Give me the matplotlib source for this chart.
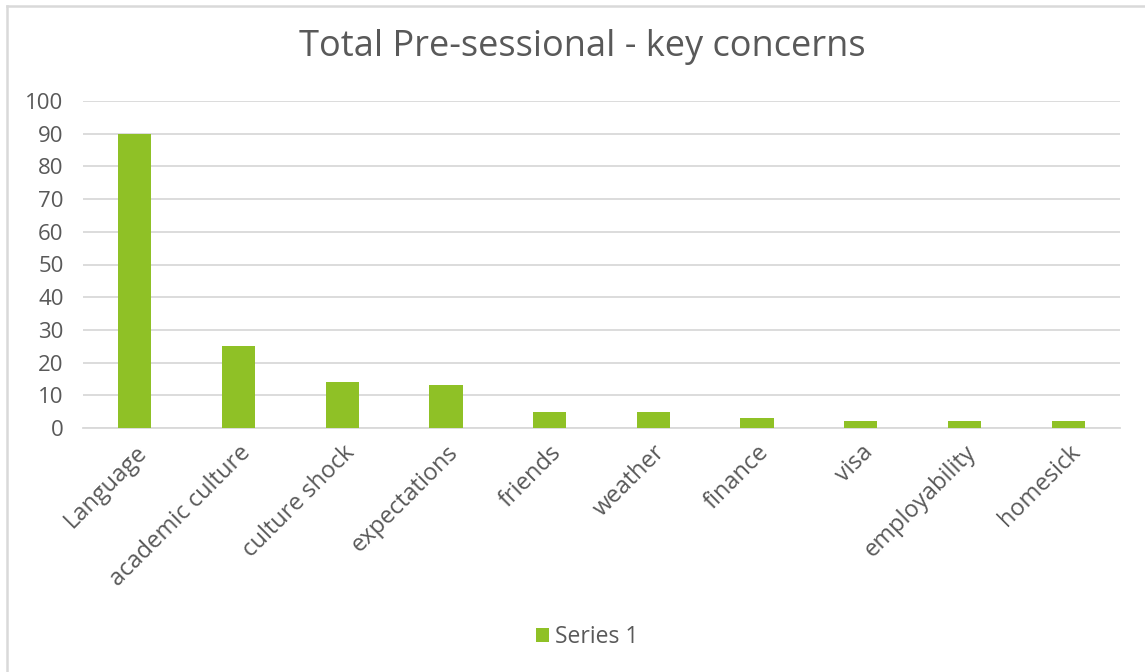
import matplotlib
matplotlib.use("Agg")
import matplotlib.pyplot as plt
from matplotlib.lines import Line2D
from matplotlib.transforms import ScaledTranslation

categories = ["Language", "academic culture", "culture shock", "expectations",
              "friends", "weather", "finance", "visa", "employability", "homesick"]
values = [90, 25, 14, 13, 5, 5, 3, 2, 2, 2]
series_name = "Series 1"
title = "Total Pre-sessional - key concerns"
yticks = list(range(0, 101, 10))

plt.rcParams['font.family'] = ['Open Sans', 'DejaVu Sans']
W, H = 1145, 672
fig = plt.figure(figsize=(W / 100, H / 100), dpi=100)
ax = fig.add_axes([83 / W, 1 - 428 / H, (1120 - 83) / W, (428 - 101) / H])

green = "#8FC126"
grey_text = "#595959"
grid_c = "#D9D9D9"

x = list(range(len(categories)))
ax.bar(x, values, width=0.32, color=green, label=series_name, zorder=3)
ax.set_xlim(-0.5, len(categories) - 0.5)
ax.set_ylim(0, 100)
ax.set_yticks(yticks)
ax.set_yticklabels([str(v) for v in yticks], fontsize=16, color=grey_text)
ax.set_xticks(x)
ax.set_xticklabels(categories, rotation=45, ha="right", rotation_mode="anchor",
                   fontsize=17, color=grey_text)
offset = ScaledTranslation(4 / 100, 0, fig.dpi_scale_trans)
for lab in ax.get_xticklabels():
    lab.set_transform(lab.get_transform() + offset)
ax.tick_params(axis="both", length=0)
ax.tick_params(axis="y", pad=14)
ax.tick_params(axis="x", pad=9)
ax.grid(axis="y", color=grid_c, linewidth=1.3, zorder=0)
for s in ["top", "right", "left"]:
    ax.spines[s].set_visible(False)
ax.spines["bottom"].set_color(grid_c)
ax.spines["bottom"].set_linewidth(1.3)

fig.text(582 / W, 1 - 47 / H, title, ha="center", va="center", fontsize=26, color=grey_text)

leg = fig.legend(loc="center", bbox_to_anchor=(587 / W, 1 - 637 / H), frameon=False,
                 fontsize=16.5, handlelength=0.6, handleheight=0.6, handletextpad=0.25)
for t in leg.get_texts():
    t.set_color(grey_text)

# chart border (left and top visible)
fig.add_artist(Line2D([6.5 / W, 6.5 / W], [0, 1 - 5.5 / H], transform=fig.transFigure,
                      color=grid_c, linewidth=1.8))
fig.add_artist(Line2D([6.5 / W, 1], [1 - 5.5 / H, 1 - 5.5 / H], transform=fig.transFigure,
                      color=grid_c, linewidth=1.8))

fig.savefig("out.png", dpi=100, facecolor="white")
